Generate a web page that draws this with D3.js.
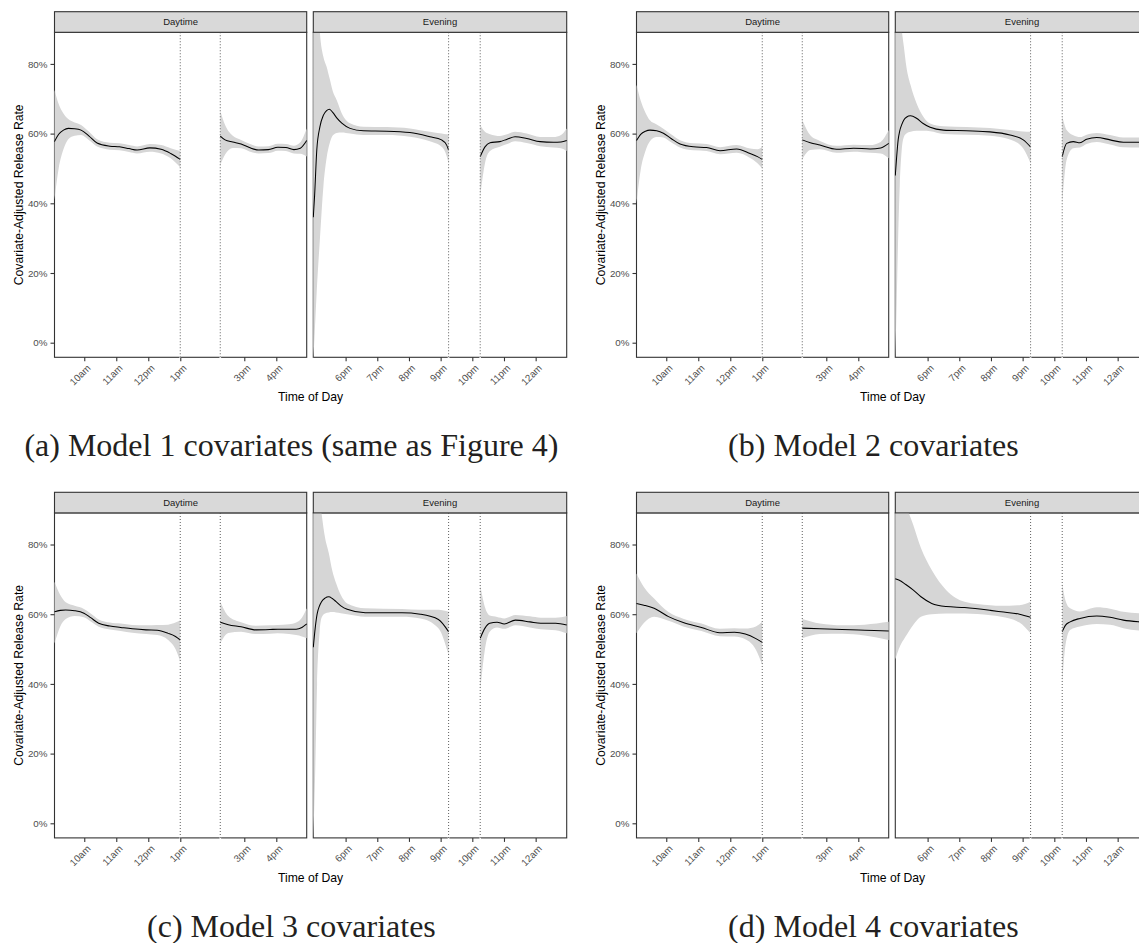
<!DOCTYPE html>
<html>
<head>
<meta charset="utf-8">
<script src="https://cdn.jsdelivr.net/npm/d3@7"></script>
<style>
  body { margin: 0; background: #fff; }
  svg { display: block; }
</style>
</head>
<body>
<svg id="fig" width="1139" height="943"></svg>
<script>
// rows: [hour of day, fitted rate %, lower band %, upper band %]
// Model 1
const m1Day1 = [
  [9.07, 57.7, 41.0, 72.5], [9.2, 59.8, 50.0, 68.5], [9.35, 61.0, 55.5, 65.8],
  [9.5, 61.5, 58.4, 64.2], [9.7, 61.4, 59.4, 63.2], [9.9, 61.0, 59.6, 62.5],
  [10.15, 59.3, 58.1, 60.5], [10.4, 57.3, 56.3, 58.4], [10.8, 56.4, 55.4, 57.4],
  [11.1, 56.2, 55.2, 57.2], [11.4, 55.7, 54.7, 56.7], [11.65, 55.3, 54.3, 56.3],
  [12.05, 55.9, 54.8, 57.0], [12.4, 55.5, 54.3, 56.7], [12.7, 54.3, 52.9, 55.8],
  [13.0, 52.6, 50.3, 55.0]
];
const m1Day2 = [
  [14.25, 59.3, 51.0, 66.5], [14.4, 58.2, 54.0, 62.5], [14.64, 57.6, 55.9, 59.4],
  [14.9, 57.0, 55.8, 58.2], [15.16, 56.0, 54.9, 57.1], [15.45, 55.3, 54.3, 56.3],
  [15.75, 55.4, 54.4, 56.4], [16.05, 56.1, 55.1, 57.1], [16.3, 56.0, 55.0, 57.0],
  [16.55, 55.4, 54.3, 56.5], [16.75, 55.8, 54.2, 57.5], [16.95, 58.0, 53.4, 61.5]
];
const m1Eve1 = [
  [16.98, 36.0, -5, 140], [17.02, 42.0, 2, 125], [17.09, 55.3, 15, 105],
  [17.19, 62.0, 30, 88.8], [17.3, 65.3, 45, 82.0], [17.4, 66.6, 53, 79.2],
  [17.49, 67.0, 57, 76.0], [17.6, 66.0, 59.5, 72.0], [17.72, 64.5, 60.2, 69.6],
  [17.88, 63.0, 60.3, 65.8], [18.14, 61.5, 60.0, 63.0], [18.56, 60.8, 59.6, 62.0],
  [19.3, 60.7, 59.6, 61.9], [20.03, 60.3, 59.1, 61.5], [20.66, 59.1, 57.8, 60.5],
  [21.03, 58.2, 56.2, 60.0], [21.19, 56.7, 53.6, 59.8], [21.25, 55.3, 51.5, 59.8]
];
const m1Eve2 = [
  [22.25, 53.4, 42.0, 62.5], [22.4, 56.2, 51.5, 60.5], [22.56, 57.4, 55.0, 59.8],
  [22.87, 57.7, 56.2, 59.3], [23.1, 58.4, 57.0, 59.8], [23.35, 59.1, 57.8, 60.5],
  [23.72, 58.6, 57.3, 60.0], [24.14, 57.7, 56.4, 59.0], [24.56, 57.5, 56.0, 59.0],
  [24.8, 57.6, 55.8, 59.6], [24.98, 58.0, 55.0, 61.5]
];
// Model 2
const m2Day1 = [
  [9.07, 58.0, 40.0, 74.0], [9.2, 59.8, 49.5, 69.5], [9.35, 60.7, 55.0, 66.0],
  [9.49, 61.0, 57.8, 63.8], [9.7, 60.8, 59.0, 62.6], [9.91, 60.1, 58.9, 61.4],
  [10.15, 58.6, 57.5, 59.8], [10.43, 57.0, 56.0, 58.1], [10.85, 56.2, 55.2, 57.2],
  [11.26, 56.0, 55.0, 57.0], [11.68, 55.1, 54.1, 56.1], [12.2, 55.6, 54.5, 56.7],
  [12.62, 54.3, 53.0, 55.7], [12.85, 53.4, 51.5, 55.5], [13.0, 52.6, 50.0, 56.2]
];
const m2Day2 = [
  [14.25, 58.2, 52.6, 63.9], [14.5, 57.4, 55.3, 59.5], [14.8, 56.7, 55.5, 57.9],
  [15.32, 55.5, 54.5, 56.5], [15.85, 55.8, 54.8, 56.8], [16.37, 55.6, 54.5, 56.7],
  [16.7, 55.9, 54.3, 57.6], [16.95, 57.2, 52.9, 61.0]
];
const m2Eve1 = [
  [16.98, 48.0, -5, 140], [17.02, 53.0, 10, 125], [17.07, 58.2, 30, 108],
  [17.12, 60.8, 45, 96], [17.18, 62.5, 55, 90], [17.25, 63.9, 59.0, 85],
  [17.33, 64.7, 60.0, 79.2], [17.46, 65.1, 60.5, 74.0], [17.65, 64.4, 60.8, 68.7],
  [17.86, 62.9, 60.8, 64.9], [18.08, 61.8, 60.7, 62.9], [18.5, 61.0, 59.9, 62.1],
  [19.23, 60.8, 59.7, 61.9], [19.97, 60.5, 59.4, 61.6], [20.6, 59.6, 58.3, 61.0],
  [21.02, 58.2, 55.7, 60.6], [21.25, 56.2, 51.5, 60.5]
];
const m2Eve2 = [
  [22.25, 53.4, 40.0, 65.0], [22.39, 57.2, 52.5, 61.0], [22.6, 57.7, 55.8, 59.5],
  [22.81, 57.4, 56.0, 59.0], [23.02, 58.4, 57.0, 59.7], [23.34, 58.9, 57.6, 60.2],
  [23.76, 58.2, 56.9, 59.6], [24.18, 57.5, 56.1, 58.9], [24.67, 57.5, 56.0, 58.9],
  [24.98, 57.6, 55.5, 59.7]
];
// Model 3
const m3Day1 = [
  [9.07, 60.7, 51.6, 69.3], [9.25, 61.1, 56.5, 65.5], [9.42, 61.2, 58.6, 63.4],
  [9.7, 61.0, 59.5, 62.4], [9.99, 60.3, 59.1, 61.5], [10.2, 59.0, 57.9, 60.2],
  [10.45, 57.4, 56.4, 58.5], [10.8, 56.6, 55.6, 57.6], [11.14, 56.2, 55.2, 57.3],
  [11.5, 55.8, 54.7, 56.9], [11.93, 55.5, 54.3, 56.8], [12.28, 55.4, 54.0, 56.9],
  [12.62, 54.5, 52.6, 57.0], [12.85, 53.6, 50.0, 57.6], [13.0, 52.6, 46.4, 58.3]
];
const m3Day2 = [
  [14.25, 57.7, 51.6, 63.6], [14.5, 57.0, 54.6, 59.5], [14.9, 56.4, 55.0, 57.7],
  [15.36, 55.5, 54.3, 56.7], [15.8, 55.6, 54.4, 56.8], [16.04, 55.7, 54.5, 56.9],
  [16.4, 55.7, 54.3, 57.1], [16.62, 55.7, 54.0, 57.6], [16.8, 56.2, 53.6, 59.0],
  [16.95, 57.2, 53.1, 61.7]
];
const m3Eve1 = [
  [16.98, 50.5, -5, 140], [17.04, 56.0, 15, 122], [17.1, 60.0, 40, 105],
  [17.18, 62.5, 55, 93], [17.24, 63.6, 59.0, 89.0], [17.35, 64.6, 60.2, 82.0],
  [17.47, 65.0, 60.5, 77.5], [17.58, 64.5, 60.6, 72.5], [17.7, 63.6, 60.5, 68.9],
  [17.85, 62.4, 60.3, 65.5], [18.05, 61.4, 60.0, 63.1], [18.62, 60.4, 59.3, 61.7],
  [19.78, 60.4, 59.3, 61.5], [20.36, 60.0, 58.8, 61.3], [20.93, 58.5, 56.0, 61.3],
  [21.25, 55.0, 48.3, 60.7]
];
const m3Eve2 = [
  [22.25, 53.1, 38.0, 68.4], [22.4, 56.0, 50.0, 62.0], [22.55, 57.4, 55.0, 59.6],
  [22.78, 57.7, 56.2, 59.2], [23.01, 57.2, 55.8, 58.8], [23.36, 58.3, 56.8, 59.8],
  [23.82, 57.8, 56.2, 59.4], [24.16, 57.4, 55.7, 59.0], [24.63, 57.4, 55.4, 59.0],
  [24.98, 56.9, 54.5, 59.5]
];
// Model 4
const m4Day1 = [
  [9.07, 63.1, 54.5, 71.7], [9.3, 62.6, 57.5, 67.8], [9.62, 61.7, 59.3, 64.5],
  [10.07, 59.3, 58.1, 60.6], [10.53, 57.6, 56.5, 58.7], [11.1, 56.2, 55.2, 57.3],
  [11.67, 54.7, 53.7, 55.8], [12.13, 54.8, 53.6, 56.0], [12.47, 54.3, 52.8, 55.9],
  [12.8, 53.0, 49.8, 56.5], [13.0, 51.9, 45.4, 57.8]
];
const m4Day2 = [
  [14.25, 56.0, 53.1, 58.6], [14.8, 55.8, 54.3, 57.3], [15.5, 55.6, 54.4, 56.8],
  [16.2, 55.4, 53.9, 57.0], [16.95, 55.2, 52.6, 57.8]
];
const m4Eve1 = [
  [16.98, 70.2, 47.0, 120], [17.09, 69.8, 50.0, 100], [17.3, 68.6, 53.5, 92],
  [17.55, 66.9, 57.0, 85.5], [17.79, 65.0, 59.3, 79.0], [18.13, 63.1, 60.0, 72.7],
  [18.59, 62.2, 60.2, 66.9], [19.17, 61.9, 60.2, 63.6], [19.98, 61.1, 59.7, 62.6],
  [20.32, 60.7, 59.3, 62.4], [20.9, 60.0, 57.6, 62.6], [21.25, 59.1, 54.5, 63.6]
];
const m4Eve2 = [
  [22.25, 55.0, 40.0, 68.9], [22.35, 56.8, 51.0, 64.0], [22.5, 57.8, 55.5, 61.7],
  [22.81, 58.8, 56.5, 60.8], [23.34, 59.5, 57.2, 62.0], [23.76, 59.1, 57.0, 61.6],
  [24.18, 58.3, 56.0, 60.7], [24.67, 57.8, 55.3, 60.3], [24.98, 57.6, 55.0, 60.5]
];

const facetNames = ['Daytime', 'Evening'];
const dayTicks = [10, 11, 12, 13, 15, 16];
const dayTickLabels = ['10am', '11am', '12pm', '1pm', '3pm', '4pm'];
const eveTicks = [18, 19, 20, 21, 22, 23, 24];
const eveTickLabels = ['6pm', '7pm', '8pm', '9pm', '10pm', '11pm', '12am'];
const yTicks = [0, 20, 40, 60, 80];
const dayGaps = [13, 14.25];
const eveGaps = [21.25, 22.25];
const captions = [
  '(a) Model 1 covariates (same as Figure 4)',
  '(b) Model 2 covariates',
  '(c) Model 3 covariates',
  '(d) Model 4 covariates'
];

const models = [
  {caption: captions[0], day: [m1Day1, m1Day2], eve: [m1Eve1, m1Eve2]},
  {caption: captions[1], day: [m2Day1, m2Day2], eve: [m2Eve1, m2Eve2]},
  {caption: captions[2], day: [m3Day1, m3Day2], eve: [m3Eve1, m3Eve2]},
  {caption: captions[3], day: [m4Day1, m4Day2], eve: [m4Eve1, m4Eve2]}
];

// geometry of one sub-figure; the four are tiled 2 x 2
const subW = 582, subH = 480.6;
const stripTop = 11.7, panelTop = 32.3, panelBottom = 357.3;
const sans = 'Liberation Sans, Arial, Helvetica, sans-serif';
const dark = '#333333';

const y = d3.scaleLinear().domain([-4.19, 89.07]).range([panelBottom, panelTop]);

const facets = [
  {name: facetNames[0], key: 'day', ticks: dayTicks, labels: dayTickLabels, gaps: dayGaps,
   x: d3.scaleLinear().domain([9.07, 16.95]).range([54.5, 306.7])},
  {name: facetNames[1], key: 'eve', ticks: eveTicks, labels: eveTickLabels, gaps: eveGaps,
   x: d3.scaleLinear().domain([16.98, 24.98]).range([313.3, 566.7])}
];

const svg = d3.select('#fig');
svg.append('rect').attr('width', 1139).attr('height', 943).attr('fill', '#fff');

const defs = svg.append('defs');
facets.forEach((f, i) => {
  const [x0, x1] = f.x.range();
  defs.append('clipPath').attr('id', `clip-${i}`)
    .append('rect')
      .attr('x', x0 - 0.6).attr('y', panelTop)
      .attr('width', x1 - x0 + 1.2).attr('height', panelBottom - panelTop + 0.6);
});

models.forEach((m, mi) => {
  const col = mi % 2, row = Math.floor(mi / 2);
  const g = svg.append('g').attr('transform', `translate(${col * subW}, ${row * subH})`);

  facets.forEach((f, fi) => {
    const x = f.x;
    const [x0, x1] = x.range();
    const fg = g.append('g');

    // panel border
    fg.append('rect')
      .attr('x', x0).attr('y', panelTop)
      .attr('width', x1 - x0).attr('height', panelBottom - panelTop)
      .attr('fill', 'none').attr('stroke', dark).attr('stroke-width', 1.1);

    const area = d3.area()
      .x(d => x(d[0])).y0(d => y(d[2])).y1(d => y(d[3]))
      .curve(d3.curveMonotoneX);
    const line = d3.line()
      .x(d => x(d[0])).y(d => y(d[1]))
      .curve(d3.curveMonotoneX);

    const plot = fg.append('g').attr('clip-path', `url(#clip-${fi})`);
    plot.selectAll('path.band').data(m[f.key]).join('path')
      .attr('class', 'band')
      .attr('d', area)
      .attr('fill', '#d6d6d6');
    plot.selectAll('path.fit').data(m[f.key]).join('path')
      .attr('class', 'fit')
      .attr('d', line)
      .attr('fill', 'none').attr('stroke', '#000').attr('stroke-width', 1.05);

    // dotted lines bounding the break in the data
    fg.selectAll('line.gapw').data(f.gaps).join('line')
      .attr('class', 'gapw')
      .attr('x1', d => x(d)).attr('x2', d => x(d))
      .attr('y1', panelBottom - 3).attr('y2', panelBottom + 1)
      .attr('stroke', '#fff').attr('stroke-width', 1.6);
    fg.selectAll('line.gap').data(f.gaps).join('line')
      .attr('class', 'gap')
      .attr('x1', d => x(d)).attr('x2', d => x(d))
      .attr('y1', panelTop).attr('y2', panelBottom)
      .attr('stroke', '#6e6e6e').attr('stroke-width', 1.1)
      .attr('stroke-dasharray', '1,2');

    // strip
    fg.append('rect')
      .attr('x', x0).attr('y', stripTop)
      .attr('width', x1 - x0).attr('height', panelTop - stripTop)
      .attr('fill', '#d9d9d9').attr('stroke', dark).attr('stroke-width', 1.1);
    fg.append('text')
      .attr('x', (x0 + x1) / 2).attr('y', (stripTop + panelTop) / 2)
      .attr('dy', '0.35em').attr('text-anchor', 'middle')
      .attr('font-family', sans).attr('font-size', 9.5).attr('fill', '#1a1a1a')
      .text(f.name);

    // x axis
    const xAxis = fg.append('g')
      .attr('transform', `translate(0, ${panelBottom})`)
      .call(d3.axisBottom(x).tickValues(f.ticks)
        .tickFormat((d, i) => f.labels[i]).tickSize(4).tickSizeOuter(0));
    xAxis.select('.domain').remove();
    xAxis.selectAll('line').attr('stroke', dark).attr('stroke-width', 1.1);
    xAxis.selectAll('text')
      .attr('y', null).attr('dy', '0.71em')
      .attr('text-anchor', 'end')
      .attr('transform', 'translate(1.5, 6.5) rotate(-45)')
      .attr('font-family', sans).attr('font-size', 9.8).attr('fill', '#4d4d4d');

    // y axis only on the first facet
    if (fi === 0) {
      const yAxis = fg.append('g')
        .attr('transform', `translate(${x0}, 0)`)
        .call(d3.axisLeft(y).tickValues(yTicks).tickFormat(d => d + '%').tickSize(4));
      yAxis.select('.domain').remove();
      yAxis.selectAll('line').attr('stroke', dark).attr('stroke-width', 1.1);
      yAxis.selectAll('text')
        .attr('font-family', sans).attr('font-size', 9.8).attr('fill', '#4d4d4d');
    }
  });

  // axis titles
  g.append('text')
    .attr('x', (54.5 + 566.7) / 2).attr('y', 396.7).attr('dy', '0.35em')
    .attr('text-anchor', 'middle')
    .attr('font-family', sans).attr('font-size', 12.2).attr('fill', '#000')
    .text('Time of Day');
  g.append('text')
    .attr('transform', `translate(18.3, ${(panelTop + panelBottom) / 2}) rotate(-90)`)
    .attr('dy', '0.35em').attr('text-anchor', 'middle')
    .attr('font-family', sans).attr('font-size', 12.2).attr('fill', '#000')
    .text('Covariate-Adjusted Release Rate');

  // sub-figure caption
  g.append('text')
    .attr('x', 291.4).attr('y', 456)
    .attr('text-anchor', 'middle')
    .attr('font-family', 'Liberation Serif, Times New Roman, serif')
    .attr('font-size', 32).attr('fill', '#231f20')
    .text(m.caption);
});
</script>
</body>
</html>
